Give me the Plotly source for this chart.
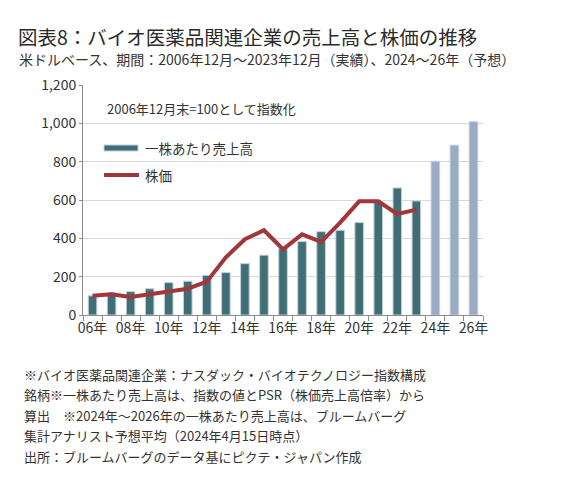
import plotly.graph_objects as go

# 年（2006〜2026）
years = list(range(2006, 2027))
actual_years = years[:18]      # 2006〜2023 実績
forecast_years = years[18:]    # 2024〜2026 予想

# 一株あたり売上高（2006年12月末=100）
sales_actual = [100, 116, 122, 137, 169, 176, 207, 221, 268, 312,
                346, 383, 435, 442, 482, 588, 663, 595]
sales_forecast = [802, 886, 1008]

# 株価（2006年12月末=100）
price = [100, 108, 94, 110, 124, 137, 174, 301, 395, 442,
         343, 421, 381, 482, 593, 593, 527, 550]

tick_years = years[::2]
tick_text = ["%02d年" % (y % 100) for y in tick_years]

FONT = "Noto Sans CJK JP"
TEXT = "#333333"
TEAL = "#3F6F74"
FCST = "#9AACC3"
EDGE = "#C3CEDD"
RED = "#A1373B"

fig = go.Figure()

fig.add_trace(go.Bar(x=actual_years, y=sales_actual, width=0.45,
                     marker=dict(color=TEAL, line=dict(color=EDGE, width=1)),
                     name="一株あたり売上高"))
fig.add_trace(go.Bar(x=forecast_years, y=sales_forecast, width=0.45,
                     marker=dict(color=FCST, line=dict(color=EDGE, width=1)),
                     name="予想"))
fig.add_trace(go.Scatter(x=actual_years, y=price, mode="lines",
                         line=dict(color=RED, width=4), name="株価"))

# ページ本体に8pxの余白が付くので、その分だけ小さく取る
fig.update_layout(
    width=568, height=481,
    margin=dict(l=75, r=93, t=77, b=174),
    paper_bgcolor="white", plot_bgcolor="white",
    showlegend=False,
    font=dict(family=FONT, color=TEXT, size=14),
    bargap=0.5,
)

fig.update_xaxes(
    range=[2005.5, 2026.5],
    tickmode="array", tickvals=tick_years, ticktext=tick_text,
    ticks="", showgrid=False,
    showline=True, linecolor="#8C8C8C", linewidth=1,
    tickfont=dict(size=14, color=TEXT),
    minor=dict(ticks="outside", tick0=2005.5, dtick=1, ticklen=5,
               tickcolor="#8C8C8C", showgrid=False),
)
fig.update_yaxes(
    range=[0, 1200], dtick=200, tickformat=",d",
    showgrid=True, gridcolor="#D9D9D9", gridwidth=1,
    showline=True, linecolor="#8C8C8C", linewidth=1,
    ticks="outside", ticklen=3, tickcolor="#8C8C8C",
    tickfont=dict(size=14, color=TEXT),
    zeroline=False,
)

# タイトル・サブタイトル
fig.add_annotation(text="図表8：バイオ医薬品関連企業の売上高と株価の推移",
                   xref="paper", yref="paper", x=-67 / 400, y=1 + 49 / 230,
                   xanchor="left", yanchor="middle", showarrow=False,
                   font=dict(size=19.5, color="#2B2B2B"))
fig.add_annotation(text="米ドルベース、期間：2006年12月～2023年12月（実績）、2024～26年（予想）",
                   xref="paper", yref="paper", x=-66 / 400, y=1 + 26 / 230,
                   xanchor="left", yanchor="middle", showarrow=False,
                   font=dict(size=14, color=TEXT))

# 指数化の注記
fig.add_annotation(text="2006年12月末=100として指数化",
                   xref="paper", yref="paper", x=22 / 400, y=1 - 24 / 230,
                   xanchor="left", yanchor="middle", showarrow=False,
                   font=dict(size=13, color=TEXT))

# 凡例（手書き）
fig.add_shape(type="rect", xref="paper", yref="paper",
              x0=21 / 400, x1=55 / 400, y0=1 - 66 / 230, y1=1 - 60 / 230,
              fillcolor=TEAL, line=dict(color=EDGE, width=1))
fig.add_annotation(text="一株あたり売上高", xref="paper", yref="paper",
                   x=60 / 400, y=1 - 63 / 230, xanchor="left", yanchor="middle",
                   showarrow=False, font=dict(size=13.5, color=TEXT))
fig.add_shape(type="line", xref="paper", yref="paper",
              x0=21 / 400, x1=56 / 400, y0=1 - 90 / 230, y1=1 - 90 / 230,
              line=dict(color=RED, width=4))
fig.add_annotation(text="株価", xref="paper", yref="paper",
                   x=60 / 400, y=1 - 90 / 230, xanchor="left", yanchor="middle",
                   showarrow=False, font=dict(size=13.5, color=TEXT))

# 注記
notes = [
    "※バイオ医薬品関連企業：ナスダック・バイオテクノロジー指数構成",
    "銘柄※一株あたり売上高は、指数の値とPSR（株価売上高倍率）から",
    "算出　※2024年～2026年の一株あたり売上高は、ブルームバーグ",
    "集計アナリスト予想平均（2024年4月15日時点）",
    "出所：ブルームバーグのデータ基にピクテ・ジャパン作成",
]
for i, line in enumerate(notes):
    fig.add_annotation(text=line, xref="paper", yref="paper",
                       x=-61 / 400, y=-(59 + 20.5 * i) / 230,
                       xanchor="left", yanchor="middle", showarrow=False,
                       font=dict(size=13, color=TEXT))

fig.write_html("out.html")
